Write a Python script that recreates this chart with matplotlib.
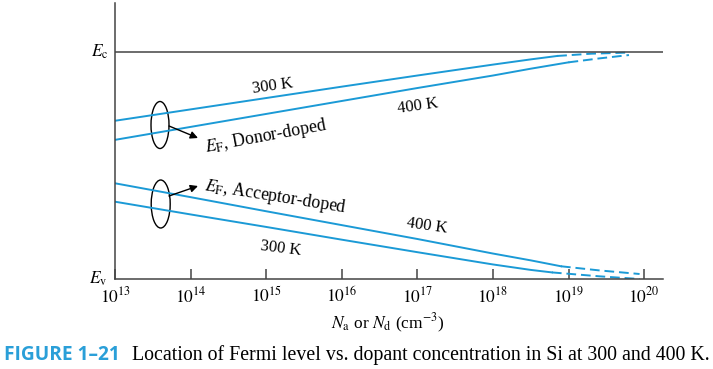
import numpy as np
import matplotlib
matplotlib.use('Agg')
import matplotlib.pyplot as plt
from matplotlib.patches import Ellipse

plt.rcParams['font.family'] = ['Liberation Serif', 'DejaVu Serif']
plt.rcParams['mathtext.fontset'] = 'stix'

# log10 of dopant concentration (cm^-3) and Fermi level position, 0 = Ev, 1 = Ec
logN_donor300 = [13, 14, 15, 16, 17, 18, 18.5, 18.85]
ef_donor300 = [0.696, 0.746, 0.796, 0.846, 0.895, 0.943, 0.966, 0.981]
logN_donor300_ext = [18.85, 19.3, 19.8]
ef_donor300_ext = [0.981, 0.991, 0.996]

logN_donor400 = [13, 14, 15, 16, 17, 18, 18.5, 19.0]
ef_donor400 = [0.612, 0.669, 0.726, 0.783, 0.840, 0.895, 0.925, 0.953]
logN_donor400_ext = [19.0, 19.4, 19.8]
ef_donor400_ext = [0.953, 0.970, 0.985]

logN_acc400 = [13, 14, 15, 16, 17, 18, 18.5, 18.9]
ef_acc400 = [0.421, 0.360, 0.298, 0.237, 0.176, 0.112, 0.082, 0.056]
logN_acc400_ext = [18.9, 19.4, 19.94]
ef_acc400_ext = [0.056, 0.038, 0.022]

logN_acc300 = [13, 14, 15, 16, 17, 18, 18.5, 18.78]
ef_acc300 = [0.340, 0.284, 0.229, 0.173, 0.118, 0.064, 0.040, 0.029]
logN_acc300_ext = [18.78, 19.4, 19.94]
ef_acc300_ext = [0.029, 0.012, 0.0]

tick_exps = [13, 14, 15, 16, 17, 18, 19, 20]

blue = '#1b9ad6'
dark = '#444444'

fig = plt.figure(figsize=(7.13, 3.69), dpi=100)
ax = fig.add_axes([115/713, 1-279/369, 548/713, 276/369])

def pw(v):
    return 10.0 ** np.array(v)

for xs, ys, xe, ye in [(logN_donor300, ef_donor300, logN_donor300_ext, ef_donor300_ext),
                       (logN_donor400, ef_donor400, logN_donor400_ext, ef_donor400_ext),
                       (logN_acc400, ef_acc400, logN_acc400_ext, ef_acc400_ext),
                       (logN_acc300, ef_acc300, logN_acc300_ext, ef_acc300_ext)]:
    ax.plot(pw(xs), ys, color=blue, lw=1.4)
    ax.plot(pw(xe), ye, color=blue, lw=1.4, ls=(0, (5, 2.5)))

ax.axhline(1.0, color=dark, lw=1.1)
ax.set_xscale('log')
ax.set_xlim(1e13, 10 ** 20.25)
ax.set_ylim(0, 1.214)
ax.spines['top'].set_visible(False)
ax.spines['right'].set_visible(False)
ax.spines['left'].set_color(dark)
ax.spines['bottom'].set_color(dark)
ax.spines['left'].set_linewidth(1.1)
ax.spines['bottom'].set_linewidth(1.1)
ax.set_xticks(pw(tick_exps))
ax.set_xticklabels(['$10^{%d}$' % e for e in tick_exps])
ax.xaxis.set_minor_locator(matplotlib.ticker.NullLocator())
ax.tick_params(axis='x', direction='in', length=7.5, width=1.1, color=dark,
               labelsize=12.5, pad=5)
ax.set_yticks([])

# band edge labels
ax.text(-0.012, 1.0, '$E_\\mathrm{c}$', transform=ax.get_yaxis_transform(),
        ha='right', va='center', fontsize=12.5)
ax.text(-0.014, 0.0, '$E_\\mathrm{v}$', transform=ax.get_yaxis_transform(),
        ha='right', va='center', fontsize=12.5)

# curve labels (positions in axes fraction)
def afr(px, py):
    return ((px - 115) / 548, (279 - py) / 276)

ax.text(*afr(273, 86), '300 K', transform=ax.transAxes, rotation=8,
        ha='center', va='center', fontsize=12)
ax.text(*afr(418, 106), '400 K', transform=ax.transAxes, rotation=8,
        ha='center', va='center', fontsize=12)
ax.text(*afr(266, 136), '$E_\\mathrm{F}$, Donor-doped', transform=ax.transAxes,
        rotation=10.5, ha='center', va='center', fontsize=12.8)
ax.text(*afr(276, 197), '$E_\\mathrm{F}$, Acceptor-doped', transform=ax.transAxes,
        rotation=-9, ha='center', va='center', fontsize=12.8)
ax.text(*afr(427, 226), '400 K', transform=ax.transAxes, rotation=-8,
        ha='center', va='center', fontsize=12)
ax.text(*afr(281, 249), '300 K', transform=ax.transAxes, rotation=-7,
        ha='center', va='center', fontsize=12)

# ellipses and arrows
ax.add_patch(Ellipse(afr(160, 125), 18/548, 47/276, transform=ax.transAxes,
                     fill=False, ec='black', lw=1.0))
ax.add_patch(Ellipse(afr(160.7, 204), 19/548, 48/276, transform=ax.transAxes,
                     fill=False, ec='black', lw=1.0))
ax.annotate('', xy=afr(198, 138), xytext=afr(169, 126), xycoords='axes fraction',
            arrowprops=dict(arrowstyle='-|>', color='black', lw=1.0,
                            mutation_scale=11, shrinkA=0, shrinkB=0))
ax.annotate('', xy=afr(198, 186), xytext=afr(169, 196), xycoords='axes fraction',
            arrowprops=dict(arrowstyle='-|>', color='black', lw=1.0,
                            mutation_scale=11, shrinkA=0, shrinkB=0))

# x label
fig.text(388/713, 1-323/369, '$N_\\mathrm{a}$ or $N_\\mathrm{d}$ (cm$^{-3}$)',
         ha='center', va='center', fontsize=12.5)

# caption
fig.text(4/713, 1-355/369, 'FIGURE 1\u201321', color='#2a9fd8', fontsize=13.8,
         fontweight='bold', family=['Open Sans', 'DejaVu Sans'], ha='left', va='center')
fig.text(132/713, 1-355/369,
         'Location of Fermi level vs. dopant concentration in Si at 300 and 400 K.',
         fontsize=14.3, ha='left', va='center')

fig.savefig('out.png', dpi=100)
